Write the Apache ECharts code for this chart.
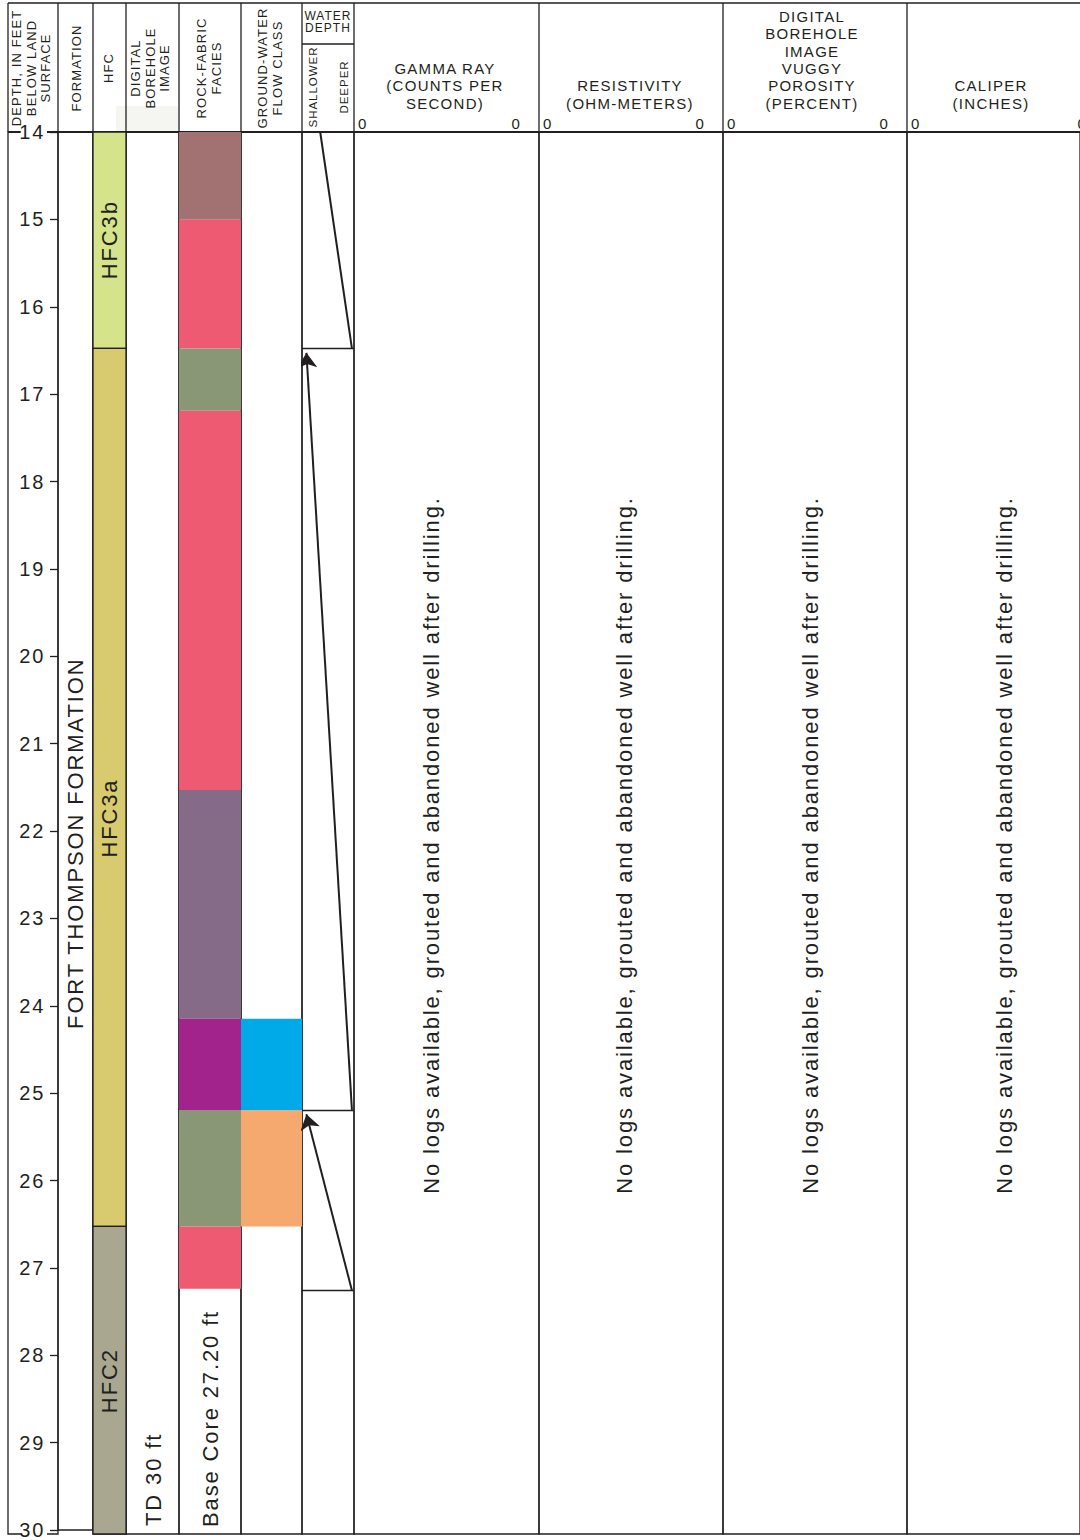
<!DOCTYPE html>
<html>
<head>
<meta charset="utf-8">
<title>Core log</title>
<script src="https://cdn.jsdelivr.net/npm/echarts@6/dist/echarts.min.js"></script>
<style>
html, body { margin: 0; padding: 0; background: #fff; }
#chart { width: 1080px; height: 1540px; }
/* the source figure uses tracked type */
#chart svg text { letter-spacing: 0.085em; }
</style>
</head>
<body>
<div id="chart"></div>
<script>
// depth scale, feet below land surface
const depthMin = 14;
const depthMax = 30;
const depthStep = 1;

// formation
const formationNames = ['FORT THOMPSON FORMATION'];
const formationTop = [14];
const formationBase = [30];
const formationLabelAt = [22.14];

// hydrogeologic flow units
const hfcNames = ['HFC3b', 'HFC3a', 'HFC2'];
const hfcTop = [14, 16.47, 26.49];
const hfcBase = [16.47, 26.49, 30];
const hfcLabelAt = [15.23, 21.83, 28.25];

// rock-fabric facies
const faciesTop = [14, 15, 16.47, 17.18, 21.51, 24.12, 25.16, 26.49];
const faciesBase = [15, 16.47, 17.18, 21.51, 24.12, 25.16, 26.49, 27.2];
const faciesCode = ['f1', 'f2', 'f3', 'f2', 'f4', 'f5', 'f3', 'f2'];

// ground-water flow class
const flowTop = [24.12, 25.16];
const flowBase = [25.16, 26.49];
const flowCode = ['c1', 'c2'];

// water depth trend, 0 = shallower, 1 = deeper
const trendStartPos = [0.35, 0.96, 0.96];
const trendStartDepth = [14, 25.16, 27.22];
const trendEndPos = [0.96, 0.085, 0.085];
const trendEndDepth = [16.47, 16.52, 25.21];
const trendArrow = [false, true, true];
const trendBreaks = [16.47, 25.16, 27.22];

// log tracks (no data)
const logTitles = [
  'GAMMA RAY\n(COUNTS PER\nSECOND)',
  'RESISTIVITY\n(OHM-METERS)',
  'DIGITAL\nBOREHOLE\nIMAGE\nVUGGY\nPOROSITY\n(PERCENT)',
  'CALIPER\n(INCHES)'
];
const logScaleMin = ['0', '0', '0', '0'];
const logScaleMax = ['0', '0', '0', '0'];
const noLogNote = 'No logs available, grouted and abandoned well after drilling.';
const tdNote = 'TD 30 ft';
const coreNote = 'Base Core 27.20 ft';

// colours
const ink = '#231f20';
const hfcColors = { HFC3b: '#d5e48b', HFC3a: '#d7ca6f', HFC2: '#a9a78f' };
const faciesColors = { f1: '#a27273', f2: '#ee5a72', f3: '#8a9776', f4: '#856b88', f5: '#a1238b' };
const flowColors = { c1: '#00aae9', c2: '#f6a96f' };

const fontFamily = '"Liberation Sans", Arial, sans-serif';
const plotTop = 132;
const plotHeight = 1402;

// column layout
const cols = [
  { key: 'depth', x: 8, w: 50, title: 'DEPTH, IN FEET\nBELOW LAND\nSURFACE', tx: 31 },
  { key: 'formation', x: 58, w: 35, title: 'FORMATION', tx: 76 },
  { key: 'hfc', x: 93, w: 33, title: 'HFC', tx: 108 },
  { key: 'dbi', x: 126, w: 53, title: 'DIGITAL\nBOREHOLE\nIMAGE', tx: 150 },
  { key: 'facies', x: 179, w: 62, title: 'ROCK-FABRIC\nFACIES', tx: 209 },
  { key: 'flow', x: 241, w: 61, title: 'GROUND-WATER\nFLOW CLASS', tx: 270 },
  { key: 'water', x: 302, w: 52 },
  { key: 'gamma', x: 354, w: 185, tx: 445, nx: 431 },
  { key: 'res', x: 539, w: 184, tx: 630, nx: 624 },
  { key: 'vug', x: 723, w: 184, tx: 812, nx: 810 },
  { key: 'cal', x: 907, w: 198, tx: 991, nx: 1004 }
];
const colIndex = key => cols.findIndex(c => c.key === key);

const grids = [];
const xAxes = [];
const yAxes = [];
cols.forEach((c, i) => {
  grids.push({
    left: c.x, top: plotTop, width: c.w, height: plotHeight,
    show: true, borderColor: ink, borderWidth: 1.3, backgroundColor: 'transparent'
  });
  xAxes.push({ gridIndex: i, type: 'value', min: 0, max: 1, show: false });
  yAxes.push({
    gridIndex: i, type: 'value', min: depthMin, max: depthMax, interval: depthStep,
    inverse: true, show: i === 1, z: 10,
    axisLine: { show: false },
    axisTick: { show: true, length: 8, lineStyle: { color: ink, width: 1.3 } },
    axisLabel: {
      show: true, fontSize: 20, color: ink, fontFamily: fontFamily, margin: 11,
      backgroundColor: '#fff', padding: [0, 2], showMinLabel: true, showMaxLabel: true
    },
    splitLine: { show: false }
  });
});

// interval blocks drawn through the depth axis
function bandSeries(key, tops, bases, colors, opts) {
  const i = colIndex(key);
  return {
    type: 'custom', xAxisIndex: i, yAxisIndex: i, silent: true, z: 3,
    renderItem: (params, api) => {
      const a = api.coord([0, api.value(0)]);
      const b = api.coord([1, api.value(1)]);
      const children = [{
        type: 'rect',
        shape: { x: a[0], y: a[1], width: b[0] - a[0], height: b[1] - a[1] },
        style: { fill: api.visual('color'), stroke: opts.stroke || null, lineWidth: 1.3 }
      }];
      if (opts.labels) {
        const p = api.coord([0.5, opts.labelAt[params.dataIndex]]);
        children.push({
          type: 'text', x: p[0], y: p[1], rotation: Math.PI / 2,
          style: {
            text: opts.labels[params.dataIndex], font: '22px ' + fontFamily, fill: ink,
            align: 'center', verticalAlign: 'middle', textAlign: 'center', textVerticalAlign: 'middle'
          }
        });
      }
      return { type: 'group', children };
    },
    data: tops.map((t, k) => ({ value: [t, bases[k]], itemStyle: { color: colors[k] } }))
  };
}

const wi = colIndex('water');
const series = [
  bandSeries('formation', formationTop, formationBase, formationTop.map(() => 'transparent'),
    { labels: formationNames, labelAt: formationLabelAt }),
  bandSeries('hfc', hfcTop, hfcBase, hfcNames.map(n => hfcColors[n]),
    { stroke: ink, labels: hfcNames, labelAt: hfcLabelAt }),
  bandSeries('facies', faciesTop, faciesBase, faciesCode.map(c => faciesColors[c]), {}),
  bandSeries('flow', flowTop, flowBase, flowCode.map(c => flowColors[c]), {}),
  {
    type: 'lines', coordinateSystem: 'cartesian2d', xAxisIndex: wi, yAxisIndex: wi,
    silent: true, z: 4, symbol: 'none',
    lineStyle: { color: ink, width: 1.3, opacity: 1 },
    data: trendBreaks.map(d => ({ coords: [[0, d], [1, d]] }))
  },
  {
    type: 'lines', coordinateSystem: 'cartesian2d', xAxisIndex: wi, yAxisIndex: wi,
    silent: true, z: 4, symbol: 'none',
    lineStyle: { color: ink, width: 2, opacity: 1 },
    data: trendArrow.map((a, k) => a ? null : { coords: [[trendStartPos[k], trendStartDepth[k]], [trendEndPos[k], trendEndDepth[k]]] }).filter(Boolean)
  },
  {
    type: 'lines', coordinateSystem: 'cartesian2d', xAxisIndex: wi, yAxisIndex: wi,
    silent: true, z: 4, symbol: ['none', 'arrow'], symbolSize: [0, 15],
    lineStyle: { color: ink, width: 2, opacity: 1 },
    data: trendArrow.map((a, k) => a ? { coords: [[trendStartPos[k], trendStartDepth[k]], [trendEndPos[k], trendEndDepth[k]]] } : null).filter(Boolean)
  }
];

// header and notes
function txt(x, y, text, size, opts) {
  opts = opts || {};
  return {
    type: 'text', x: x, y: y, z: 20, rotation: opts.rot ? Math.PI / 2 : 0, silent: true,
    style: {
      text: text, font: size + 'px ' + fontFamily, fill: ink,
      align: opts.align || 'center', textAlign: opts.align || 'center',
      verticalAlign: opts.va || 'middle', textVerticalAlign: opts.va || 'middle',
      lineHeight: opts.lh || size * 1.15
    }
  };
}
function line(x1, y1, x2, y2, w, z) {
  return { type: 'line', z: z || 1, silent: true, shape: { x1, y1, x2, y2 }, style: { stroke: ink, lineWidth: w } };
}

const graphics = [
  { type: 'rect', z: 0, silent: true, shape: { x: 116, y: 106, width: 62, height: 26 }, style: { fill: '#f5f5f1' } },
  line(8, 3, 1080, 3, 1.5),
  line(8, plotTop, 1080, plotTop, 2),
  line(302, 44, 354, 44, 1.3)
];
cols.forEach(c => graphics.push(line(c.x, 3, c.x, plotTop, 1.3)));
cols.forEach(c => {
  if (c.title) graphics.push(txt(c.tx, 68, c.title, 13, { rot: true, lh: 14.5 }));
});
graphics.push(txt(328, 22, 'WATER\nDEPTH', 12, { lh: 12.5 }));
graphics.push(txt(313, 87, 'SHALLOWER', 11.5, { rot: true }));
graphics.push(txt(344, 87, 'DEEPER', 11.5, { rot: true }));

['gamma', 'res', 'vug', 'cal'].forEach((key, k) => {
  const c = cols[colIndex(key)];
  graphics.push(txt(c.tx, 112, logTitles[k], 15, { va: 'bottom', lh: 17.4 }));
  graphics.push(txt(c.x + 4, 123, logScaleMin[k], 15, { align: 'left' }));
  graphics.push(txt(c.x + c.w - 18, 123, logScaleMax[k], 15, { align: 'right' }));
  graphics.push(txt(c.nx, 845, noLogNote, 22, { rot: true }));
});
graphics.push(txt(153, 1526, tdNote, 22, { rot: true, align: 'left' }));
graphics.push(txt(210, 1527, coreNote, 22, { rot: true, align: 'left' }));

const chart = echarts.init(document.getElementById('chart'), null, { renderer: 'svg' });
chart.setOption({
  animation: false,
  backgroundColor: '#fff',
  grid: grids,
  xAxis: xAxes,
  yAxis: yAxes,
  series: series,
  graphic: { elements: graphics }
});
</script>
</body>
</html>
